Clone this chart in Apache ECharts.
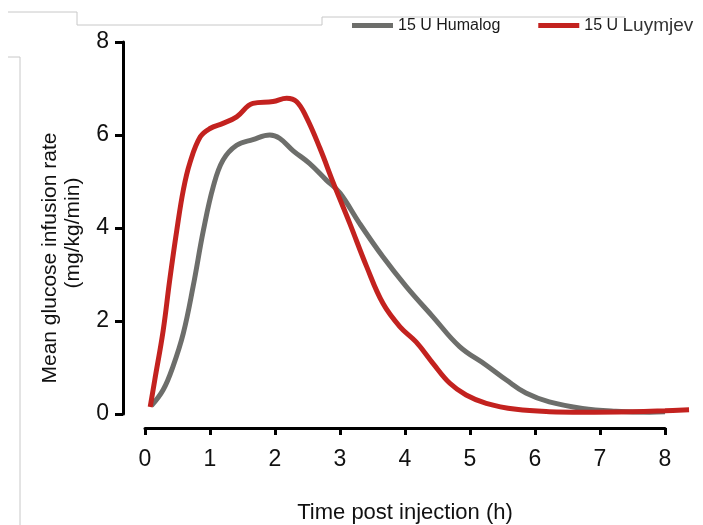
<!DOCTYPE html>
<html>
<head>
<meta charset="utf-8">
<script src="https://cdn.jsdelivr.net/npm/echarts@6/dist/echarts.min.js"></script>
<style>
  html, body { margin: 0; padding: 0; background: #fff; }
  #chart { width: 703px; height: 525px; }
</style>
</head>
<body>
<div id="chart"></div>
<script>
// time post injection (h) and mean GIR (mg/kg/min)
const humalogX = [0.1, 0.28, 0.43, 0.59, 0.74, 0.9, 1.05, 1.2, 1.41, 1.66, 1.92, 2.07, 2.28, 2.53, 2.79, 3.0, 3.3, 3.66, 4.02, 4.43, 4.84, 5.25, 5.56, 5.86, 6.22, 6.73, 7.24, 7.76, 8.0];
const humalogY = [0.18, 0.52, 1.02, 1.74, 2.74, 3.96, 4.89, 5.46, 5.78, 5.9, 6.0, 5.93, 5.66, 5.39, 5.03, 4.75, 4.1, 3.38, 2.74, 2.09, 1.45, 1.05, 0.73, 0.45, 0.26, 0.12, 0.06, 0.04, 0.05];

const luymjevX = [0.08, 0.15, 0.28, 0.38, 0.49, 0.59, 0.69, 0.85, 1.0, 1.2, 1.41, 1.66, 1.97, 2.18, 2.33, 2.48, 2.69, 2.9, 3.15, 3.41, 3.66, 3.92, 4.17, 4.43, 4.69, 4.94, 5.25, 5.71, 6.22, 6.73, 7.5, 8.0, 8.37];
const luymjevY = [0.15, 0.73, 1.8, 2.88, 3.96, 4.82, 5.4, 5.96, 6.14, 6.25, 6.39, 6.68, 6.72, 6.79, 6.72, 6.39, 5.72, 4.96, 4.1, 3.17, 2.38, 1.88, 1.55, 1.09, 0.66, 0.41, 0.23, 0.1, 0.05, 0.04, 0.05, 0.07, 0.09];

const xTicks = [0, 8, 1];   // min, max, step
const yTicks = [0, 8, 2];
const xDataMax = 8.4;       // curves run a bit past the last tick

const pairs = (xs, ys) => xs.map((x, i) => [x, ys[i]]);

const chart = echarts.init(document.getElementById("chart"));

const font = "Liberation Sans, Arial, sans-serif";
const plotLeft = 145, plotTop = 42, plotW = 520, plotH = 372;

chart.setOption({
  backgroundColor: "#fff",
  animation: false,
  textStyle: { fontFamily: font },
  grid: [
    { left: plotLeft, top: plotTop, width: plotW, height: plotH, outerBoundsMode: "none", containLabel: false },
    { left: plotLeft, top: plotTop, width: plotW * xDataMax / xTicks[1], height: plotH, outerBoundsMode: "none", containLabel: false }
  ],
  legend: {
    left: 352,
    top: 16,
    padding: 0,
    icon: "rect",
    itemWidth: 41,
    itemHeight: 5,
    itemGap: 38,
    data: ["15 U Humalog", "15 U Luymjev"],
    formatter: (name) => name == "15 U Luymjev" ? "{a|15 U }{b|Luymjev}" : "{a|" + name + "}",
    textStyle: {
      rich: {
        a: { fontSize: 16, color: "#1a1a1a", fontFamily: font },
        b: { fontSize: 19, color: "#333", fontFamily: font }
      }
    }
  },
  xAxis: [
    {
      type: "value",
      gridIndex: 0,
      min: xTicks[0],
      max: xTicks[1],
      interval: xTicks[2],
      offset: 14,
      name: "Time post injection (h)",
      nameLocation: "middle",
      nameGap: 74,
      nameTextStyle: { fontSize: 22, color: "#111" },
      axisLine: { onZero: false, lineStyle: { color: "#000", width: 3 } },
      axisTick: { length: 7, lineStyle: { color: "#000", width: 3 } },
      axisLabel: { fontSize: 23, color: "#111", margin: 20 },
      splitLine: { show: false }
    },
    {
      type: "value",
      gridIndex: 1,
      min: xTicks[0],
      max: xDataMax,
      show: false
    }
  ],
  yAxis: [
    {
      type: "value",
      gridIndex: 0,
      min: yTicks[0],
      max: yTicks[1],
      interval: yTicks[2],
      offset: 22,
      axisLine: { show: true, onZero: false, lineStyle: { color: "#000", width: 3 } },
      axisTick: { show: true, length: 8, lineStyle: { color: "#000", width: 3 } },
      axisLabel: { fontSize: 23, color: "#111", margin: 14 },
      splitLine: { show: false }
    },
    {
      type: "value",
      gridIndex: 1,
      min: yTicks[0],
      max: yTicks[1],
      show: false
    }
  ],
  graphic: [
    {
      type: "polyline",
      shape: { points: [[8, 12], [77, 12], [77, 25], [322, 25], [322, 17], [625, 17]] },
      style: { stroke: "#c8c8c8", lineWidth: 1, fill: null }
    },
    {
      type: "polyline",
      shape: { points: [[8, 57], [20, 57], [20, 525]] },
      style: { stroke: "#c8c8c8", lineWidth: 1, fill: null }
    },
    {
      type: "text",
      x: 50, y: 258, rotation: Math.PI / 2,
      style: { text: "Mean glucose infusion rate", fontSize: 21, fontFamily: font, fill: "#111", align: "center", verticalAlign: "middle" }
    },
    {
      type: "text",
      x: 73, y: 233, rotation: Math.PI / 2,
      style: { text: "(mg/kg/min)", fontSize: 21, fontFamily: font, fill: "#111", align: "center", verticalAlign: "middle" }
    }
  ],
  series: [
    {
      name: "15 U Humalog",
      type: "line",
      xAxisIndex: 1,
      yAxisIndex: 1,
      smooth: 0.4,
      showSymbol: false,
      clip: false,
      color: "#6d6e6b",
      lineStyle: { width: 5 },
      data: pairs(humalogX, humalogY)
    },
    {
      name: "15 U Luymjev",
      type: "line",
      xAxisIndex: 1,
      yAxisIndex: 1,
      smooth: 0.4,
      showSymbol: false,
      clip: false,
      color: "#c3221f",
      lineStyle: { width: 5 },
      data: pairs(luymjevX, luymjevY)
    }
  ]
});
</script>
</body>
</html>
